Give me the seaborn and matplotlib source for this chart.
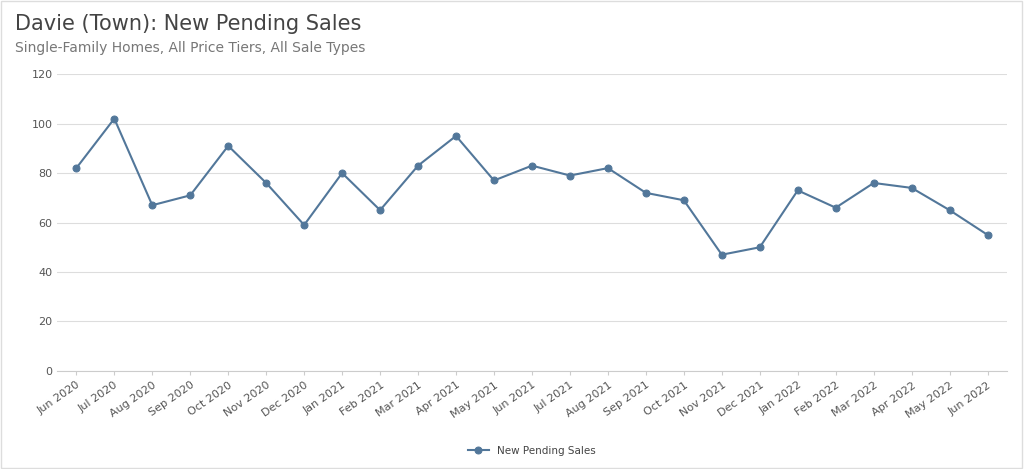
import matplotlib
matplotlib.use('Agg')
import matplotlib.pyplot as plt
import seaborn as sns
import pandas as pd

months = ["Jun 2020", "Jul 2020", "Aug 2020", "Sep 2020", "Oct 2020", "Nov 2020", "Dec 2020",
          "Jan 2021", "Feb 2021", "Mar 2021", "Apr 2021", "May 2021", "Jun 2021", "Jul 2021",
          "Aug 2021", "Sep 2021", "Oct 2021", "Nov 2021", "Dec 2021", "Jan 2022", "Feb 2022",
          "Mar 2022", "Apr 2022", "May 2022", "Jun 2022"]
pending = [82, 102, 67, 71, 91, 76, 59, 80, 65, 83, 95, 77, 83, 79, 82, 72, 69, 47, 50, 73,
           66, 76, 74, 65, 55]
yticks = [0, 20, 40, 60, 80, 100, 120]

df = pd.DataFrame({"month": months, "sales": pending, "x": range(len(months))})
color = "#52779a"

fig = plt.figure(figsize=(10.24, 4.69), dpi=100)
ax = fig.add_axes([0.056, 0.209, 0.927, 0.633])
sns.lineplot(data=df, x="x", y="sales", color=color, marker="o", markersize=5,
             markeredgecolor=color, linewidth=1.5, ax=ax, label="New Pending Sales")

ax.set_xlim(-0.5, len(months) - 0.5)
ax.set_ylim(0, 120)
ax.set_yticks(yticks)
ax.set_xticks(range(len(months)))
ax.set_xticklabels(months, rotation=35, ha="right", rotation_mode="anchor", fontsize=8, color="#555555")
ax.tick_params(axis="y", labelsize=8, colors="#555555", length=0)
ax.tick_params(axis="x", length=3, color="#cccccc")
ax.grid(axis="y", color="#dddddd", linewidth=0.8)
ax.set_axisbelow(True)
for s in ["top", "right", "left"]:
    ax.spines[s].set_visible(False)
ax.spines["bottom"].set_color("#cccccc")
ax.set_xlabel("")
ax.set_ylabel("")

ax.legend(loc="upper center", bbox_to_anchor=(0.5, -0.22), frameon=False, fontsize=7.5,
          labelcolor="#444444")

fig.text(0.015, 0.935, "Davie (Town): New Pending Sales", fontsize=15, color="#444444")
fig.text(0.015, 0.89, "Single-Family Homes, All Price Tiers, All Sale Types", fontsize=10, color="#777777")
fig.patches.append(plt.Rectangle((0.001, 0.002), 0.997, 0.995, transform=fig.transFigure,
                                 fill=False, edgecolor="#dddddd", linewidth=1))

fig.savefig("out.png", dpi=100)
